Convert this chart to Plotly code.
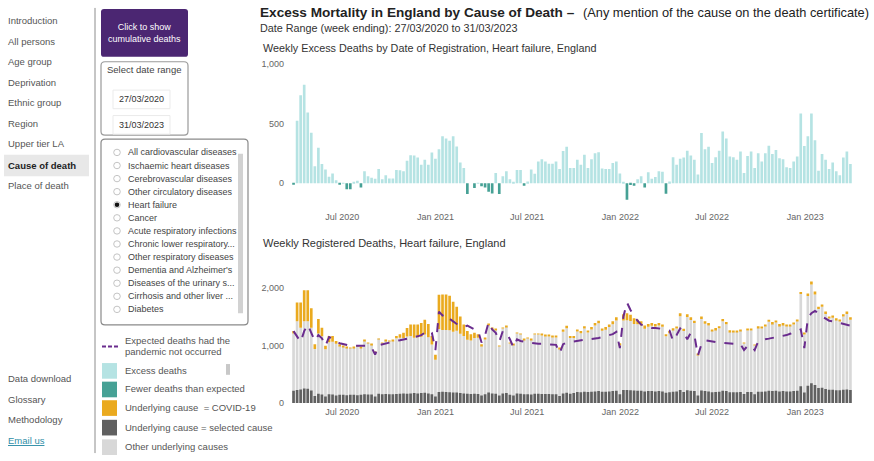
import pandas as pd
import plotly.graph_objects as go

W, H = 874, 461
FONT = "Liberation Sans, Arial, sans-serif"

# ---------------- data ----------------
weeks = pd.date_range("2020-03-27", periods=158, freq="7D")

excess = [-5,
    524, 737, 825, 592, 423, 142, 298, 161, 115, 55,
    82, 25, -10, 5, -50, -50, 11, 22, -35, 100,
    60, 46, 38, 120, 33, 68, 41, 41, 112, 109,
    100, 188, 235, 232, 216, 156, 197, 156, 257, 205,
    284, 393, 374, 355, 393, 308, 175, 128, -90, 0,
    -40, 5, -25, -35, -70, -85, 87, -90, 60, 100,
    33, 11, 112, 112, -20, 16, 115, 79, 183, 202,
    183, 164, 164, 183, 120, 270, 306, 128,
    128, 197, 156, 238, 128, 202, 251, 259, 123, 120,
    120, 169, 183, 82, 11, -137, -15, -20, 33, 60,
    -35, 93, 38, 52, 100, 96, -87, 16, 218, 156,
    205, 216, 273, 232, 197, 74, 420, 284, 306, 169,
    218, 273, 434, 374, 224, 218, 197, 265, 87, 229,
    265, 128, 251, 183, 251, 314, 246, 278, 210, 202,
    134, 128, 183, 224, 584, 311, 393, 584, 360, 106,
    246, 197, 120, 175, 100, 68, 216, 265, 161]

other_top = [  # top of the grey (non-COVID) part of each registered-deaths bar
    1210, 1420, 1310, 1420, 1420, 1310, 940, 1210, 1160, 935,
    1055, 1065, 1030, 990, 975, 955, 950, 960, 990, 960,
    1085, 1045, 1015, 875, 1115, 1045, 1085, 1075, 1080, 1125,
    1135, 1130, 1155, 1165, 1135, 1145, 1150, 1190, 1145, 1015,
    750, 1285, 1270, 1270, 1265, 1240, 1255, 1205, 1165, 1100,
    1085, 1130, 1135, 990, 1110, 1355, 1290, 1270, 985, 1295,
    1325, 1040, 1015, 1210, 1195, 1100, 1125, 1100, 1190, 1190,
    1175, 1160, 1155, 1145, 1140, 945, 1240, 1300, 1130,
    1130, 1245, 1215, 1295, 1225, 1280, 1350, 1385, 1255, 1275,
    1320, 1370, 1435, 1010, 1435, 1440, 1425, 1375, 1370, 1350,
    1290, 1325, 1345, 1330, 1350, 1325, 1160, 1215, 1270, 1295,
    1510, 1250, 1495, 1445, 1390, 835, 1460, 1380, 1350, 1250,
    1275, 1300, 1420, 1370, 1235, 1235, 1235, 1255, 1040, 1260,
    1260, 1000, 1310, 1295, 1335, 1415, 1380, 1400, 1345, 1360,
    1335, 1340, 1365, 1420, 1895, 1190, 1860, 2060, 1890, 1635,
    1675, 1550, 1470, 1485, 1445, 1420, 1505, 1550, 1450]

covid = [
    40, 330, 440, 540, 540, 340, 80, 250, 150, 60,
    110, 100, 50, 30, 20, 10, 5, 5, 5, 5,
    5, 5, 5, 5, 5, 5, 5, 5, 10, 40,
    60, 90, 150, 200, 230, 220, 240, 260, 230, 150,
    90, 600, 620, 620, 600, 520, 420, 300, 200, 150,
    110, 90, 60, 30, 25, 20, 15, 10, 8, 10,
    10, 8, 5, 10, 10, 8, 10, 10, 15, 15,
    20, 20, 20, 25, 25, 20, 40, 45, 35,
    35, 35, 35, 40, 35, 40, 40, 45, 40, 45,
    45, 50, 55, 30, 110, 120, 110, 100, 80, 70,
    60, 50, 45, 45, 40, 40, 35, 35, 30, 35,
    50, 40, 50, 45, 40, 15, 45, 40, 40, 30,
    30, 35, 40, 40, 30, 25, 25, 25, 10, 20,
    20, 10, 25, 25, 30, 35, 30, 30, 30, 30,
    30, 25, 25, 30, 35, 30, 45, 55, 50, 40,
    40, 40, 35, 35, 30, 30, 40, 40, 40]

selected = [
    210, 225, 235, 250, 245, 215, 120, 160, 145, 110,
    150, 145, 130, 140, 140, 135, 140, 140, 135, 140,
    150, 145, 145, 110, 160, 150, 155, 150, 150, 155,
    160, 165, 160, 165, 170, 165, 170, 175, 165, 150,
    110, 190, 195, 190, 185, 180, 180, 170, 165, 160,
    155, 160, 155, 130, 150, 180, 165, 160, 130, 165,
    170, 140, 130, 165, 160, 150, 150, 145, 160, 160,
    155, 155, 155, 150, 150, 120, 165, 175, 160,
    170, 190, 185, 195, 190, 195, 200, 205, 195, 195,
    200, 205, 210, 150, 225, 225, 220, 215, 210, 210,
    200, 205, 205, 200, 205, 200, 175, 185, 195, 200,
    225, 190, 220, 210, 205, 130, 215, 205, 200, 185,
    190, 195, 210, 205, 185, 185, 185, 190, 155, 190,
    190, 150, 195, 195, 200, 210, 205, 210, 200, 205,
    200, 200, 205, 210, 290, 180, 300, 340, 310, 260,
    265, 240, 230, 230, 220, 220, 230, 235, 225]

expected = [
    1250, 1147, 1062, 1250, 1363, 1221, 1080, 1181, 1125, 994,
    1147, 1119, 1062, 1040, 1022, 1005, 994, 994, 994, 994,
    994, 994, 966, 841, 1005, 1022, 1034, 1051, 1068, 1079,
    1091, 1102, 1113, 1125, 1142, 1159, 1181, 1221, 1261, 1221,
    920, 1590, 1522, 1545, 1465, 1420, 1375, 1352, 1318, 1346,
    1306, 1278, 1261, 1051, 1181, 1403, 1278, 1221, 1068, 1250,
    1221, 1108, 966, 1108, 1079, 1062, 1051, 1045, 1034, 1028,
    1028, 1022, 1022, 1022, 1011, 864, 1022, 1051, 1062,
    1062, 1074, 1085, 1096, 1108, 1113, 1119, 1130, 1147, 1164,
    1181, 1198, 1238, 954, 1505, 1749, 1619, 1505, 1431, 1363,
    1346, 1323, 1306, 1306, 1301, 1295, 1278, 1261, 1079, 1181,
    1295, 1221, 1108, 1221, 1181, 824, 1022, 1091, 1079, 1068,
    1056, 1051, 1045, 1040, 1040, 1034, 1034, 1022, 920, 994,
    994, 920, 1068, 1091, 1108, 1119, 1130, 1142, 1147, 1164,
    1181, 1204, 1221, 1250, 1278, 954, 1477, 1562, 1602, 1562,
    1505, 1465, 1431, 1420, 1403, 1392, 1375, 1352, 1346]

x_tick_vals = ["2020-07-01", "2021-01-01", "2021-07-01", "2022-01-01", "2022-07-01", "2023-01-01"]
x_tick_text = ["Jul 2020", "Jan 2021", "Jul 2021", "Jan 2022", "Jul 2022", "Jan 2023"]

nav_top = ["Introduction", "All persons", "Age group", "Deprivation", "Ethnic group",
           "Region", "Upper tier LA", "Cause of death", "Place of death"]
nav_bottom = ["Data download", "Glossary", "Methodology", "Email us"]
causes = ["All cardiovascular diseases", "Ischaemic heart diseases", "Cerebrovascular diseases",
          "Other circulatory diseases", "Heart failure", "Cancer", "Acute respiratory infections",
          "Chronic lower respiratory...", "Other respiratory diseases", "Dementia and Alzheimer's",
          "Diseases of the urinary s...", "Cirrhosis and other liver ...", "Diabetes"]
selected_cause = "Heart failure"

C_EXCESS = "#B5E3E3"
C_FEWER = "#46A195"
C_COVID = "#EAAA1F"
C_SEL = "#606060"
C_OTHER = "#D8D8D8"
C_EXP = "#6A2C8E"
C_PURPLE = "#4B2672"

# ---------------- traces ----------------
fig = go.Figure()
fig.add_trace(go.Bar(x=weeks, y=[v if v >= 0 else None for v in excess],
                     marker=dict(color=C_EXCESS, line_width=0), xaxis="x", yaxis="y", name="Excess deaths"))
fig.add_trace(go.Bar(x=weeks, y=[v if v < 0 else None for v in excess],
                     marker=dict(color=C_FEWER, line_width=0), xaxis="x", yaxis="y", name="Fewer deaths than expected"))

fig.add_trace(go.Bar(x=weeks, y=other_top, marker=dict(color=C_OTHER, line_width=0),
                     xaxis="x2", yaxis="y2", name="Other underlying causes"))
fig.add_trace(go.Bar(x=weeks, y=selected, marker=dict(color=C_SEL, line_width=0),
                     xaxis="x2", yaxis="y2", name="Underlying cause = selected cause"))
fig.add_trace(go.Bar(x=weeks, y=covid, base=other_top, marker=dict(color=C_COVID, line_width=0),
                     xaxis="x2", yaxis="y2", name="Underlying cause = COVID-19"))
fig.add_trace(go.Scatter(x=weeks, y=expected, mode="lines",
                         line=dict(color=C_EXP, width=2, dash="dash"),
                         xaxis="x2", yaxis="y2", name="Expected deaths"))


def px(x):
    return x / W


def py(y):
    return 1 - y / H


xr = ["2020-03-20", "2023-04-11"]
xdom = [px(290), px(856)]
axis_font = dict(family=FONT, size=9, color="#666")

fig.update_layout(
    width=W, height=H, autosize=False,
    margin=dict(l=0, r=0, t=0, b=0),
    paper_bgcolor="white", plot_bgcolor="white",
    barmode="overlay", bargap=0.25, showlegend=False,
    font=dict(family=FONT, color="#444"),
    xaxis=dict(domain=xdom, range=xr, tickvals=x_tick_vals, ticktext=x_tick_text,
               showgrid=False, zeroline=False, showline=False, tickfont=axis_font,
               ticks="", ticklabelstandoff=4, anchor="y"),
    yaxis=dict(domain=[py(205.5), py(60)], range=[-190, 1000], tickvals=[0, 500, 1000],
               tickformat=",d", showgrid=False, zeroline=False, showline=False,
               tickfont=axis_font, ticks="", ticklabelstandoff=5, anchor="x"),
    xaxis2=dict(domain=xdom, range=xr, tickvals=x_tick_vals, ticktext=x_tick_text,
                showgrid=False, zeroline=False, showline=False, tickfont=axis_font,
                ticks="", ticklabelstandoff=2, anchor="y2"),
    yaxis2=dict(domain=[py(406.7), py(277.6)], range=[0, 2200], tickvals=[0, 1000, 2000],
                tickformat=",d", showgrid=False, zeroline=False, showline=False,
                tickfont=axis_font, ticks="", ticklabelstandoff=5, anchor="x2"),
)

shapes = []
ann = []


def rect(x0, y0, x1, y1, fill=None, line=None, lw=1):
    shapes.append(dict(type="rect", xref="paper", yref="paper",
                       x0=px(x0), x1=px(x1), y0=py(y1), y1=py(y0),
                       fillcolor=fill or "rgba(0,0,0,0)",
                       line=dict(color=line or "rgba(0,0,0,0)", width=lw if line else 0)))


def rrect(x0, y0, x1, y1, r, fill=None, line=None, lw=1):
    rx, ry = r / W, r / H
    a, b, c, d = px(x0), px(x1), py(y0), py(y1)  # c top, d bottom
    path = (f"M {a+rx},{c} L {b-rx},{c} Q {b},{c} {b},{c-ry} L {b},{d+ry} Q {b},{d} {b-rx},{d} "
            f"L {a+rx},{d} Q {a},{d} {a},{d+ry} L {a},{c-ry} Q {a},{c} {a+rx},{c} Z")
    shapes.append(dict(type="path", xref="paper", yref="paper", path=path,
                       fillcolor=fill or "rgba(0,0,0,0)",
                       line=dict(color=line or "rgba(0,0,0,0)", width=lw if line else 0)))


def circle(cx, cy, r, fill=None, line=None, lw=1):
    shapes.append(dict(type="circle", xref="paper", yref="paper",
                       x0=px(cx - r), x1=px(cx + r), y0=py(cy + r), y1=py(cy - r),
                       fillcolor=fill or "rgba(0,0,0,0)",
                       line=dict(color=line or "rgba(0,0,0,0)", width=lw if line else 0)))


def hline(x0, x1, y, color, width=1, dash="solid"):
    shapes.append(dict(type="line", xref="paper", yref="paper", x0=px(x0), x1=px(x1),
                       y0=py(y), y1=py(y), line=dict(color=color, width=width, dash=dash)))


def text(x, y, t, size=9, color="#444", anchor="left"):
    ann.append(dict(x=px(x), y=py(y), xref="paper", yref="paper", text=t, showarrow=False,
                    xanchor=anchor, yanchor="middle", borderpad=0,
                    font=dict(family=FONT, size=size, color=color)))


# ---- left navigation ----
rect(4, 153, 89, 175, fill="#E8E8E8")
nav_y = [16, 37, 58, 79, 100, 121, 142, 164, 185]
for name, yy in zip(nav_top, nav_y):
    t = f"<b>{name}</b>" if name == "Cause of death" else name
    text(7, yy, t, size=9.5, color="#222" if name == "Cause of death" else "#555")
for name, yy in zip(nav_bottom, [382, 403, 424, 445]):
    if name == "Email us":
        text(7, yy, f"<u>{name}</u>", size=9.5, color="#2F8FA8")
    else:
        text(7, yy, name, size=9.5, color="#555")

shapes.append(dict(type="line", xref="paper", yref="paper", x0=px(95), x1=px(95),
                   y0=py(458), y1=py(3), line=dict(color="#8C8C8C", width=1)))

# ---- purple button ----
rrect(101, 4, 188, 53, 3, fill=C_PURPLE)
text(144.5, 29, "Click to show<br>cumulative deaths", size=9, color="white", anchor="center")

# ---- date range box ----
rrect(101, 58, 188, 133, 4, line="#9A9A9A", lw=1.2)
text(144, 66, "Select date range", size=9.5, color="#444", anchor="center")
rect(113, 87, 170, 106, line="#EBEBEB")
rect(113, 113, 170, 132, line="#EBEBEB")
text(141.5, 96.5, "27/03/2020", size=9, color="#333", anchor="center")
text(141.5, 122.5, "31/03/2023", size=9, color="#333", anchor="center")

# ---- cause list box ----
rrect(101, 137, 248, 327, 4, line="#8A8A8A", lw=1.2)
for i, name in enumerate(causes):
    yy = 150.7 + i * 13.37
    circle(117, yy, 3.3, fill="white", line="#C4C4C4", lw=1)
    if name == selected_cause:
        circle(117, yy, 2.3, fill="#111")
    text(127, yy, name, size=9, color="#444")
rect(238, 152, 243, 315, fill="#D2D2D2")

# ---- legend ----
hline(102, 118, 349, C_EXP, width=2, dash="4px,2px")
text(124, 342.5, "Expected deaths had the", size=9.5, color="#555")
text(124, 354.5, "pandemic not occurred", size=9.5, color="#555")
legend_items = [(366, C_EXCESS, "Excess deaths"),
                (385, C_FEWER, "Fewer deaths than expected"),
                (404, C_COVID, "Underlying cause  = COVID-19"),
                (424, C_SEL, "Underlying cause = selected cause"),
                (444, C_OTHER, "Other underlying causes")]
for yy, col, lab in legend_items:
    rect(102, yy, 117, yy + 16, fill=col)
    text(124, yy + 7.5, lab, size=9.5, color="#555")
rect(226, 367, 230, 378, fill="#C8C8C8")

# ---- chart titles ----
text(259, 8, "<b>Excess Mortality in England by Cause of Death –</b>", size=13.6, color="#222")
text(582, 8, "(Any mention of the cause on the death certificate)", size=12.8, color="#222")
text(259, 23, "Date Range (week ending): 27/03/2020 to 31/03/2023", size=10.8, color="#333")
text(262, 44, "Weekly Excess Deaths by Date of Registration, Heart failure, England", size=10.8, color="#333")
text(262, 243, "Weekly Registered Deaths, Heart failure, England", size=11, color="#333")

fig.update_layout(shapes=shapes, annotations=ann)
fig.write_html("out.html", config={"displayModeBar": False},
               post_script="document.body.style.margin='0';document.body.style.overflow='hidden';")
